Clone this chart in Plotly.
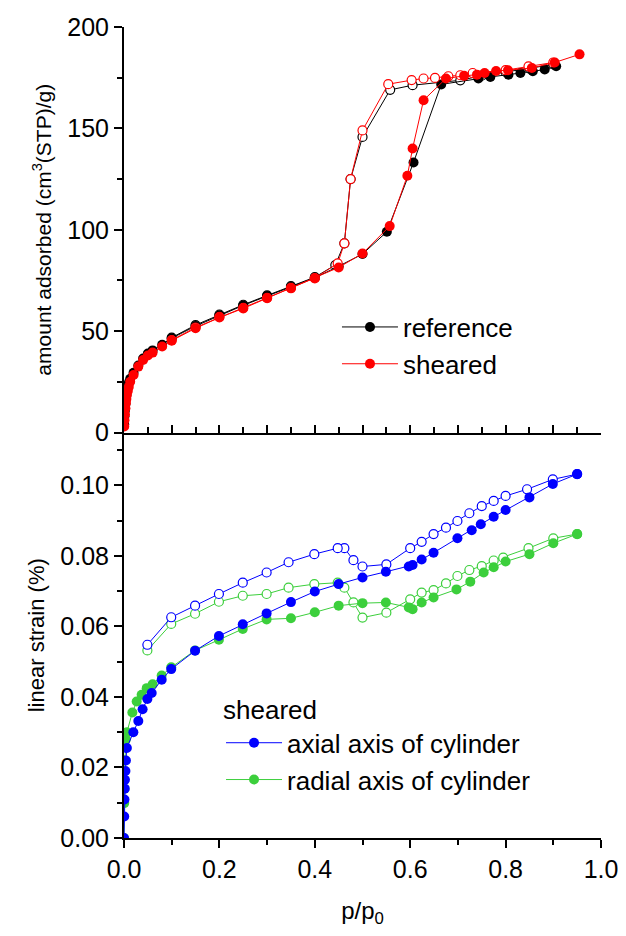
import plotly.graph_objects as go

# ---------------- top panel: isotherms ----------------
ref_ads_x = [0.0005, 0.001, 0.002, 0.003, 0.004, 0.005, 0.006, 0.008, 0.01, 0.013, 0.02, 0.03, 0.04,
             0.05, 0.06, 0.08, 0.1, 0.15, 0.2, 0.25, 0.3, 0.35, 0.4, 0.45, 0.5, 0.551, 0.607, 0.665,
             0.743, 0.768, 0.806, 0.831, 0.857, 0.882, 0.906]
ref_ads_y = [4, 8, 11, 14, 16.5, 18.5, 20.5, 22.5, 24.5, 26.5, 29.5, 33, 36.5,
             39, 40.5, 43.3, 46.5, 52.5, 57.8, 62.7, 67.3, 71.8, 76.3, 82, 88, 99, 133.2, 171.7,
             174.6, 175.4, 176.5, 177.3, 178.2, 179, 180.6]
ref_des_x = [0.9, 0.85, 0.8, 0.75, 0.705, 0.605, 0.558, 0.5, 0.475, 0.462, 0.443, 0.4, 0.35,
             0.3, 0.25, 0.2, 0.15, 0.1]
ref_des_y = [181.5, 179.5, 177.8, 176, 173.7, 171.3, 169, 145.8, 125, 93.3, 82.6, 76.6, 72.2,
             67.6, 63, 58.2, 53, 46.8]

sh_ads_x = [0.0005, 0.001, 0.002, 0.003, 0.004, 0.005, 0.006, 0.008, 0.01, 0.013, 0.02, 0.03, 0.04,
            0.05, 0.06, 0.08, 0.1, 0.15, 0.2, 0.25, 0.3, 0.35, 0.4, 0.45, 0.5, 0.557, 0.594, 0.605,
            0.628, 0.675, 0.713, 0.74, 0.756, 0.78, 0.805, 0.855, 0.903, 0.955]
sh_ads_y = [3, 6, 9, 12, 14.5, 16.5, 18.5, 20.5, 22.5, 25, 28.4, 32.5, 35.8,
            38, 39.4, 42.4, 45.3, 51.4, 56.7, 61.2, 66.2, 71.1, 76.0, 81.4, 88.3, 101.8, 126.6, 140.1,
            163.9, 174.6, 175.9, 176.5, 177.3, 178.3, 178.7, 179.8, 182.5, 186.5]
sh_des_x = [0.9, 0.848, 0.8, 0.731, 0.705, 0.68, 0.652, 0.628, 0.603, 0.554, 0.5, 0.475, 0.462,
            0.448, 0.4, 0.35, 0.3, 0.25, 0.2, 0.15, 0.1]
sh_des_y = [182.5, 180.6, 178.7, 177.3, 176.2, 175.7, 174.9, 174.6, 173.8, 171.8, 149, 125, 93.3,
            83.4, 76.2, 71.3, 66.4, 61.5, 57, 51.8, 45.6]

# ---------------- bottom panel: strain ----------------
ax_ads_x = [0.0, 0.0005, 0.001, 0.0015, 0.002, 0.003, 0.004, 0.006, 0.0196, 0.03, 0.039, 0.049,
            0.058, 0.079, 0.099, 0.149, 0.199, 0.249, 0.299, 0.35, 0.40, 0.45, 0.50, 0.549, 0.597,
            0.605, 0.624, 0.649, 0.699, 0.729, 0.748, 0.775, 0.80, 0.85, 0.899, 0.95]
ax_ads_y = [0.0, 0.0061, 0.0109, 0.014, 0.0165, 0.019, 0.022, 0.0255, 0.030, 0.0332, 0.0365, 0.0394,
            0.0411, 0.0449, 0.0479, 0.0531, 0.0573, 0.0606, 0.0637, 0.0669, 0.0699, 0.0720, 0.0739,
            0.0755, 0.0770, 0.0774, 0.0790, 0.0809, 0.0850, 0.0873, 0.0890, 0.0911, 0.0930, 0.0966,
            0.1004, 0.1032]
ax_des_x = [0.95, 0.899, 0.845, 0.80, 0.775, 0.75, 0.724, 0.699, 0.675, 0.649, 0.624, 0.60, 0.55,
            0.50, 0.481, 0.462, 0.448, 0.399, 0.345, 0.299, 0.249, 0.199, 0.149, 0.099, 0.049]
ax_des_y = [0.1032, 0.1017, 0.0989, 0.0970, 0.0956, 0.0941, 0.0921, 0.0899, 0.0880, 0.0862, 0.0840,
            0.0822, 0.0776, 0.0770, 0.0788, 0.0822, 0.0822, 0.0805, 0.0782, 0.0753, 0.0724, 0.0692,
            0.0659, 0.0626, 0.0548]

rad_ads_x = [0.0, 0.0005, 0.001, 0.002, 0.004, 0.006, 0.0175, 0.0266, 0.037, 0.0476, 0.060, 0.079,
             0.099, 0.149, 0.199, 0.249, 0.299, 0.35, 0.40, 0.45, 0.50, 0.549, 0.597, 0.605, 0.624,
             0.649, 0.697, 0.726, 0.754, 0.775, 0.80, 0.85, 0.90, 0.95]
rad_ads_y = [0.0, 0.0099, 0.014, 0.022, 0.028, 0.030, 0.0356, 0.0387, 0.0406, 0.0425, 0.0436, 0.0461,
             0.0484, 0.0532, 0.0562, 0.0593, 0.0620, 0.0623, 0.0640, 0.0659, 0.0666, 0.0668, 0.0654,
             0.0649, 0.0668, 0.0682, 0.0705, 0.0727, 0.0753, 0.0768, 0.0784, 0.0805, 0.0836, 0.0862]
rad_des_x = [0.95, 0.90, 0.848, 0.795, 0.775, 0.75, 0.724, 0.699, 0.675, 0.649, 0.624, 0.60, 0.55,
             0.50, 0.481, 0.462, 0.448, 0.399, 0.345, 0.299, 0.249, 0.199, 0.149, 0.099, 0.049]
rad_des_y = [0.0862, 0.0850, 0.0822, 0.0795, 0.0787, 0.0771, 0.0760, 0.0743, 0.0722, 0.0703, 0.0696,
             0.0677, 0.0639, 0.0625, 0.0668, 0.0710, 0.0724, 0.0720, 0.0710, 0.0692, 0.0687, 0.0670,
             0.0636, 0.0607, 0.0532]

BLACK, RED, BLUE, GREEN = "#000000", "#FF0000", "#0000FF", "#3CCF3C"
FONT = "Liberation Sans, Arial, sans-serif"
MS = 10

fig = go.Figure()


def add(x, y, color, xa, ya, name=None, filled=True, legend=None, rank=1000):
    if filled:
        marker = dict(symbol="circle", size=MS, color=color, line=dict(width=0))
    else:
        marker = dict(symbol="circle", size=MS - 1, color="white", line=dict(width=1.2, color=color))
    fig.add_trace(go.Scatter(
        x=x, y=y, mode="lines+markers", xaxis=xa, yaxis=ya,
        line=dict(color=color, width=1), marker=marker,
        name=name, showlegend=name is not None, legend=legend, legendrank=rank))


# top panel
add(ref_des_x, ref_des_y, BLACK, "x2", "y2", filled=False)
add(ref_ads_x, ref_ads_y, BLACK, "x2", "y2", name="reference", legend="legend", rank=1)
add(sh_des_x, sh_des_y, RED, "x2", "y2", filled=False)
add(sh_ads_x, sh_ads_y, RED, "x2", "y2", name="sheared", legend="legend", rank=2)

# bottom panel
add(rad_des_x, rad_des_y, GREEN, "x", "y", filled=False)
add(ax_des_x, ax_des_y, BLUE, "x", "y", filled=False)
add(rad_ads_x, rad_ads_y, GREEN, "x", "y", name="radial axis of cylinder", legend="legend2", rank=2)
add(ax_ads_x, ax_ads_y, BLUE, "x", "y", name="axial axis of cylinder", legend="legend2", rank=1)

tickfont = dict(family=FONT, size=25, color="black")
common = dict(showgrid=False, zeroline=False, showline=True, linecolor="black", linewidth=2,
              tickcolor="black", tickwidth=1.5, tickfont=tickfont, automargin=False)
mtick = dict(tickcolor="black", tickwidth=1.5)

fig.update_layout(
    width=618, height=920,
    margin=dict(l=116, r=25, t=19, b=90, autoexpand=False),
    paper_bgcolor="white", plot_bgcolor="white",
    font=dict(family=FONT, color="black"),
    # bottom panel
    xaxis=dict(domain=[0, 1], anchor="y", range=[0, 1.0], dtick=0.2, tickformat=".1f",
               ticks="outside", ticklen=8,
               minor=dict(dtick=0.1, ticks="outside", ticklen=5, **mtick),
               title=dict(text="p/p<sub>0</sub>", font=dict(family=FONT, size=24), standoff=20),
               **common),
    xaxis4=dict(overlaying="x", anchor="y", side="top", range=[0, 1.0], dtick=0.2,
                showticklabels=False, ticks="inside", ticklen=8,
                minor=dict(dtick=0.1, ticks="inside", ticklen=5, **mtick),
                **common),
    yaxis=dict(domain=[0, 0.5], anchor="x", range=[0, 0.115], dtick=0.02, tickformat=".2f",
               ticks="outside", ticklen=8,
               minor=dict(dtick=0.01, ticks="outside", ticklen=5, **mtick),
               title=dict(text="linear strain (%)", font=dict(family=FONT, size=22), standoff=10),
               **common),
    yaxis3=dict(overlaying="y", anchor="x", side="right", range=[0, 0.115], dtick=0.02,
                showticklabels=False, ticks="inside", ticklen=8,
                minor=dict(dtick=0.01, ticks="inside", ticklen=5, **mtick),
                **common),
    # top panel
    xaxis2=dict(domain=[0, 1], anchor="y2", range=[0, 1.0], dtick=0.1, showticklabels=False,
                ticks="inside", ticklen=8,
                minor=dict(dtick=0.05, ticks="inside", ticklen=6, **mtick),
                **common),
    xaxis3=dict(overlaying="x2", anchor="y2", side="top", range=[0, 1.0], dtick=0.1,
                showticklabels=False, ticks="inside", ticklen=8,
                minor=dict(dtick=0.05, ticks="inside", ticklen=6, **mtick),
                **common),
    yaxis2=dict(domain=[0.5, 1], anchor="x2", range=[0, 200], dtick=50,
                ticks="outside", ticklen=8,
                minor=dict(dtick=25, ticks="outside", ticklen=5, **mtick),
                title=dict(text="amount adsorbed (cm<sup>3</sup>(STP)/g)",
                           font=dict(family=FONT, size=21), standoff=10),
                **common),
    yaxis4=dict(overlaying="y2", anchor="x2", side="right", range=[0, 200], dtick=25,
                showticklabels=False, ticks="inside", ticklen=8, **common),
    legend=dict(x=0.4465, y=0.659, xanchor="left", yanchor="top", bgcolor="rgba(0,0,0,0)",
                font=dict(family=FONT, size=26), itemwidth=56, tracegroupgap=0),
    legend2=dict(x=0.2034, y=0.188, xanchor="left", yanchor="top", bgcolor="rgba(0,0,0,0)",
                 font=dict(family=FONT, size=26), itemwidth=56, tracegroupgap=0,
                 title=dict(text="sheared", font=dict(family=FONT, size=26))),
)

fig.write_html("out.html")
